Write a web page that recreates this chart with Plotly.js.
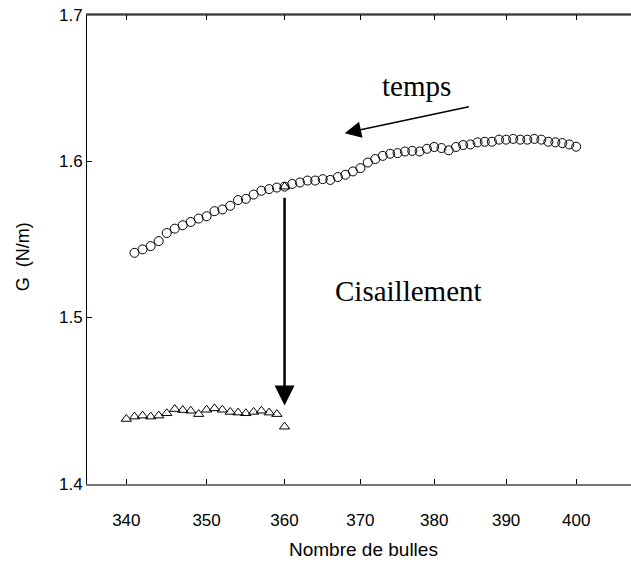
<!DOCTYPE html>
<html><head><meta charset="utf-8">
<script src="https://cdn.plot.ly/plotly-3.0.1.min.js"></script>
<style>html,body{margin:0;padding:0;background:#fff}#chart{width:631px;height:563px}</style>
</head><body><div id="chart"></div>
<script>
// Circles: before shear (time runs right to left)
const circleX = [341,342,343,344,345,346,347,348,349,350,351,352,353,354,355,356,357,358,359,360,
  361,362,363,364,365,366,367,368,369,370,371,372,373,374,375,376,377,378,379,380,
  381,382,383,384,385,386,387,388,389,390,391,392,393,394,395,396,397,398,399,400];
const circleY = [1.5406,1.5428,1.5449,1.5481,1.5533,1.5561,1.5583,1.5604,1.5626,1.5641,
  1.5674,1.5685,1.5709,1.5746,1.5754,1.5782,1.5807,1.5818,1.5828,1.5834,
  1.5852,1.5861,1.5874,1.5874,1.5883,1.5878,1.5897,1.5912,1.5934,1.5956,
  1.5993,1.6016,1.6037,1.6051,1.6055,1.6066,1.6070,1.6066,1.6084,1.6096,
  1.6089,1.6074,1.6096,1.6109,1.6113,1.6127,1.6131,1.6131,1.6145,1.6145,
  1.6150,1.6145,1.6145,1.6150,1.6145,1.6131,1.6127,1.6122,1.6113,1.6098];
// Triangles: after shear
const triX = [340,341,342,343,344,345,346,347,348,349,350,351,352,353,354,355,356,357,358,359,360,360];
const triY = [1.4382,1.4396,1.4402,1.4396,1.4402,1.4416,1.4441,1.4435,1.4431,1.4411,1.4437,
  1.4445,1.4437,1.4424,1.4420,1.4416,1.4424,1.4431,1.4420,1.4411,1.4336,1.5834];
const xTicks = [340,350,360,370,380,390,400];
const yTicks = [1.4,1.5,1.6,1.7];
const labels = {x:"Nombre de bulles", y:"G\u00a0\u00a0(N/m)", time:"temps", shear:"Cisaillement"};
// annotation anchors (data units)
const timeArrow = {from:[385.0,1.6368], to:[367.9,1.6188]};
const shearArrow = {from:[360,1.5771], to:[360,1.4463]};
const timeText = [377.6,1.6505];
const shearText = [376.5,1.5162];

const L = Math.log10;
const sans = "Liberation Sans, Arial, sans-serif";
const serif = "Liberation Serif, Times New Roman, serif";

const traces = [
  {x:circleX, y:circleY, type:"scatter", mode:"markers",
   marker:{symbol:"circle-open", size:9, color:"#000", line:{width:1,color:"#000"}}},
  {x:triX, y:triY, type:"scatter", mode:"markers",
   marker:{symbol:"triangle-up-open", size:9, color:"#000", line:{width:1,color:"#000"}}}
];

const layout = {
  width:631, height:563, showlegend:false,
  paper_bgcolor:"#fff", plot_bgcolor:"#fff",
  margin:{l:87, r:0, t:15, b:79},
  font:{family:sans, size:17, color:"#000"},
  xaxis:{type:"log", range:[L(335.2), L(408)], tickvals:xTicks, ticktext:xTicks.map(String),
    ticks:"inside", ticklen:5, tickcolor:"#000", tickwidth:1,
    showline:true, linecolor:"#777", linewidth:2, mirror:"ticks",
    showgrid:false, zeroline:false, ticklabelstandoff:20,
    tickfont:{family:sans, size:17}},
  yaxis:{type:"log", range:[L(1.4), L(1.7)], tickvals:yTicks, ticktext:yTicks.map(v=>v.toFixed(1)),
    ticks:"inside", ticklen:5, tickcolor:"#000", tickwidth:1,
    showline:true, linecolor:"#000", linewidth:1,
    showgrid:false, zeroline:false, ticklabelstandoff:0,
    tickfont:{family:sans, size:17}},
  shapes:[
    {type:"line", xref:"paper", yref:"paper", x0:0, x1:1, y0:1, y1:1,
     line:{color:"#000", width:1.2}, layer:"above"}
  ],
  annotations:[
    {x:L(timeArrow.to[0]), y:L(timeArrow.to[1]), ax:L(timeArrow.from[0]), ay:L(timeArrow.from[1]),
     xref:"x", yref:"y", axref:"x", ayref:"y", text:"", showarrow:true,
     arrowhead:2, arrowsize:2.2, arrowwidth:1.5, arrowcolor:"#000"},
    {x:L(shearArrow.to[0]), y:L(shearArrow.to[1]), ax:L(shearArrow.from[0]), ay:L(shearArrow.from[1]),
     xref:"x", yref:"y", axref:"x", ayref:"y", text:"", showarrow:true,
     arrowhead:2, arrowsize:1.6, arrowwidth:2.5, arrowcolor:"#000"},
    {x:L(timeText[0]), y:L(timeText[1]), xref:"x", yref:"y", text:labels.time, showarrow:false,
     font:{family:serif, size:29, color:"#000"}},
    {x:L(shearText[0]), y:L(shearText[1]), xref:"x", yref:"y", text:labels.shear, showarrow:false,
     font:{family:serif, size:29, color:"#000"}},
    {x:-0.117, y:0.484, xref:"paper", yref:"paper", xanchor:"center", yanchor:"middle",
     text:labels.y, textangle:-90, showarrow:false, font:{family:sans, size:18, color:"#000"}},
    {x:0.509, y:-0.1407, xref:"paper", yref:"paper", xanchor:"center", yanchor:"middle",
     text:labels.x, showarrow:false, font:{family:sans, size:19, color:"#000"}}
  ]
};
Plotly.newPlot("chart", traces, layout, {staticPlot:true, displayModeBar:false});
</script></body></html>
